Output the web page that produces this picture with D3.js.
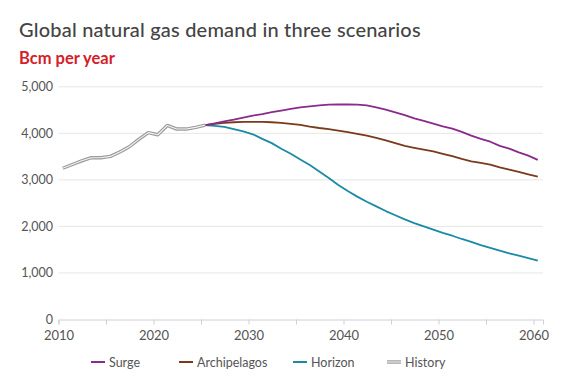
<!DOCTYPE html>
<html><head><meta charset="utf-8">
<script src="https://cdn.jsdelivr.net/npm/d3@7"></script>
<style>
body{margin:0;background:#fff;}
text{font-family:Lato, "Open Sans", sans-serif;}
</style></head>
<body>
<svg id="chart" width="567" height="380"></svg>
<script>
const historyYears = d3.range(2010, 2026);
const historyValues = [3250,3330,3410,3476,3476,3505,3598,3712,3871,4015,3970,4170,4092,4092,4128,4178];
const scenarioYears = d3.range(2025, 2061);
const surgeValues = [4178,4215,4255,4295,4340,4380,4415,4455,4490,4525,4560,4580,4600,4615,4620,4620,4615,4600,4560,4510,4450,4390,4320,4270,4210,4150,4100,4030,3950,3880,3820,3730,3670,3590,3520,3430];
const archipelagosValues = [4178,4205,4225,4238,4245,4248,4245,4238,4225,4205,4180,4145,4115,4090,4060,4025,3990,3950,3900,3850,3790,3730,3690,3650,3610,3560,3510,3450,3400,3365,3330,3270,3220,3170,3120,3070];
const horizonValues = [4178,4160,4140,4090,4040,3980,3880,3790,3670,3560,3440,3320,3180,3040,2890,2760,2640,2530,2430,2330,2240,2150,2070,2000,1930,1860,1800,1730,1670,1600,1540,1480,1420,1370,1320,1265];
const yTicks = [0,1000,2000,3000,4000,5000];
const xTicks = [2010,2020,2030,2040,2050,2060];
const xMinorTicks = [2015,2025,2035,2045,2055];
const seriesNames = ["Surge","Archipelagos","Horizon","History"];
const seriesColors = ["#8a2a8c","#7a3a1c","#1a8aa6","#9a9a9a"];

const svg = d3.select("#chart");
const x = d3.scaleLinear().domain([2010, 2061]).range([58.5, 543]);
const y = d3.scaleLinear().domain([0, 5000]).range([319.5, 86.8]);
const mid = 0.45; // points plotted mid-year

svg.append("text").attr("x",19).attr("y",37).attr("fill","#444")
  .attr("font-size",20).attr("font-weight",500).attr("letter-spacing",0.2)
  .text("Global natural gas demand in three scenarios");
svg.append("text").attr("x",19).attr("y",63.5).attr("fill","#d3202a")
  .attr("font-size",16.5).attr("font-weight",700).text("Bcm per year");

// grid
svg.append("g").selectAll("line").data(yTicks.filter(d=>d>0)).join("line")
  .attr("x1",58.5).attr("x2",543).attr("y1",d=>y(d)).attr("y2",d=>y(d))
  .attr("stroke","#e6e6e6").attr("stroke-width",1);
// y labels
svg.append("g").selectAll("text").data(yTicks).join("text")
  .attr("x",53).attr("y",d=>y(d)+4.2).attr("text-anchor","end")
  .attr("font-size",12.5).attr("fill","#555").text(d=>d3.format(",")(d));
// x axis
const xAxis = d3.axisBottom(x).tickValues(xTicks.concat(xMinorTicks)).tickSize(5).tickFormat(d=>xTicks.includes(d)?d:"");
const gx = svg.append("g").attr("transform",`translate(0,${y(0)})`).call(xAxis);
gx.select(".domain").attr("stroke","#d0d0d8");
gx.selectAll(".tick line").attr("stroke","#d0d0d8");
gx.selectAll(".tick text").attr("font-size",13).attr("fill","#555").attr("font-family","Lato, sans-serif").attr("y",8).attr("dy","0.95em");

const line = d3.line().x(d=>x(d[0]+mid)).y(d=>y(d[1]));
const hist = historyYears.map((yr,i)=>[yr,historyValues[i]]);
const series = [surgeValues, archipelagosValues, horizonValues].map(v=>scenarioYears.map((yr,i)=>[yr,v[i]]));
[2,1,0].forEach(i=>{
  svg.append("path").datum(series[i]).attr("d",line).attr("fill","none")
    .attr("stroke",seriesColors[i]).attr("stroke-width",1.8).attr("stroke-linejoin","round");
});
svg.append("path").datum(hist).attr("d",line).attr("fill","none").attr("stroke","#9a9a9a").attr("stroke-width",3.4).attr("stroke-linejoin","round");
svg.append("path").datum(hist).attr("d",line).attr("fill","none").attr("stroke","#f4f4f4").attr("stroke-width",1.1).attr("stroke-linejoin","round");

// legend
const legX = [91,179,293,387];
const lg = svg.append("g");
seriesNames.forEach((n,i)=>{
  const g = lg.append("g").attr("transform",`translate(${legX[i]},362)`);
  if(i<3){
    g.append("line").attr("x1",0).attr("x2",14).attr("stroke",seriesColors[i]).attr("stroke-width",2);
  } else {
    g.append("line").attr("x1",0).attr("x2",14).attr("stroke","#9a9a9a").attr("stroke-width",3.4);
    g.append("line").attr("x1",0).attr("x2",14).attr("stroke","#f4f4f4").attr("stroke-width",1.1);
  }
  g.append("text").attr("x",18).attr("y",4.5).attr("font-size",12.5).attr("fill","#555").text(n);
});
</script>
</body></html>
